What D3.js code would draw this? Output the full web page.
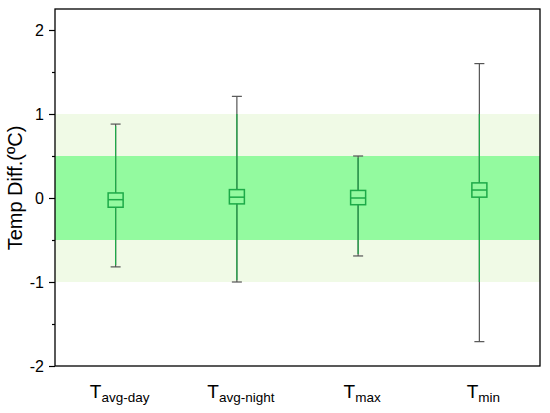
<!DOCTYPE html>
<html>
<head>
<meta charset="utf-8">
<script src="https://cdn.jsdelivr.net/npm/d3@7"></script>
<style>
  body { margin: 0; background: #fff; }
  svg { display: block; }
</style>
</head>
<body>
<div id="chart"></div>
<script>
// Box plot of temperature differences
const categories = ['avg-day', 'avg-night', 'max', 'min'];
const whiskerLow  = [-0.82, -1.00, -0.69, -1.71];
const boxLow      = [-0.11, -0.07, -0.08, 0.01];
const medians     = [-0.02, 0.01, 0.00, 0.095];
const boxHigh     = [0.06, 0.10, 0.09, 0.18];
const whiskerHigh = [0.88, 1.21, 0.50, 1.60];
const yTicks = [-2, -1, 0, 1, 2];
const bandOuter = [-1, 1];
const bandInner = [-0.5, 0.5];

const W = 550, H = 413;
const m = { top: 9, right: 10, bottom: 47, left: 55 };
const font = 'Arial, "Liberation Sans", sans-serif';

const svg = d3.select('#chart').append('svg')
  .attr('width', W).attr('height', H);

const x = d3.scalePoint()
  .domain(categories)
  .range([m.left, W - m.right])
  .padding(0.5);

const y = d3.scaleLinear()
  .domain([-2, 2.25])
  .range([H - m.bottom, m.top]);

const x0 = m.left, x1 = W - m.right;

// bands
svg.append('rect')
  .attr('x', x0).attr('width', x1 - x0)
  .attr('y', y(bandOuter[1])).attr('height', y(bandOuter[0]) - y(bandOuter[1]))
  .attr('fill', '#f0fae6');
svg.append('rect')
  .attr('x', x0).attr('width', x1 - x0)
  .attr('y', y(bandInner[1])).attr('height', y(bandInner[0]) - y(bandInner[1]))
  .attr('fill', '#93fa9f');

const green = '#1daa48';
const gray = '#555';
const hw = 7.5, cap = 5;

categories.forEach((c, i) => {
  const cx = x(c);
  const g = svg.append('g');
  // whisker stems (gray), green portion within the band
  g.append('line')
    .attr('x1', cx).attr('x2', cx)
    .attr('y1', y(whiskerHigh[i])).attr('y2', y(whiskerLow[i]))
    .attr('stroke', gray).attr('stroke-width', 1.2);
  const gTop = Math.min(whiskerHigh[i], bandOuter[1]);
  const gBot = Math.max(whiskerLow[i], bandOuter[0]);
  g.append('line')
    .attr('x1', cx).attr('x2', cx)
    .attr('y1', y(gTop) + (gTop === whiskerHigh[i] ? 2 : 0))
    .attr('y2', y(gBot) - (gBot === whiskerLow[i] ? 2 : 0))
    .attr('stroke', green).attr('stroke-width', 1.2);
  // caps
  [whiskerHigh[i], whiskerLow[i]].forEach(v => {
    g.append('line')
      .attr('x1', cx - cap).attr('x2', cx + cap)
      .attr('y1', y(v)).attr('y2', y(v))
      .attr('stroke', gray).attr('stroke-width', 1.2);
  });
  // box
  g.append('rect')
    .attr('x', cx - hw).attr('width', hw * 2)
    .attr('y', y(boxHigh[i])).attr('height', y(boxLow[i]) - y(boxHigh[i]))
    .attr('fill', '#93fa9f')
    .attr('stroke', green).attr('stroke-width', 1.5);
  g.append('line')
    .attr('x1', cx - hw).attr('x2', cx + hw)
    .attr('y1', y(medians[i])).attr('y2', y(medians[i]))
    .attr('stroke', green).attr('stroke-width', 1.5);
});

// frame
svg.append('rect')
  .attr('x', x0).attr('y', m.top)
  .attr('width', x1 - x0).attr('height', H - m.bottom - m.top)
  .attr('fill', 'none').attr('stroke', '#000').attr('stroke-width', 1.3);

// y axis
svg.append('g')
  .attr('transform', `translate(${x0},0)`)
  .call(d3.axisLeft(y).tickValues(yTicks).tickSize(6).tickPadding(5).tickFormat(d => String(d)))
  .call(g => g.select('.domain').remove())
  .call(g => g.selectAll('.tick line').attr('stroke', '#000').attr('stroke-width', 1.2))
  .call(g => g.selectAll('.tick text')
    .attr('fill', '#000')
    .attr('font-family', font)
    .attr('font-size', '16px'));

svg.append('g')
  .attr('transform', `translate(${x0},0)`)
  .call(d3.axisLeft(y).tickValues([-1.5, -0.5, 0.5, 1.5]).tickSize(3).tickFormat(''))
  .call(g => g.select('.domain').remove())
  .call(g => g.selectAll('.tick line').attr('stroke', '#000').attr('stroke-width', 1.2));

// y label
svg.append('text')
  .attr('transform', 'translate(22,188) rotate(-90)')
  .attr('text-anchor', 'middle')
  .attr('font-family', font)
  .attr('font-size', '20px')
  .attr('fill', '#000')
  .text('Temp Diff.(ºC)');

// x labels with subscripts
categories.forEach(c => {
  const t = svg.append('text')
    .attr('x', x(c) + 4).attr('y', 398)
    .attr('text-anchor', 'middle')
    .attr('font-family', font)
    .attr('font-size', '19px')
    .attr('fill', '#000');
  t.append('tspan').text('T');
  t.append('tspan').attr('dy', 4).attr('font-size', '13.5px').text(c);
});
</script>
</body>
</html>
